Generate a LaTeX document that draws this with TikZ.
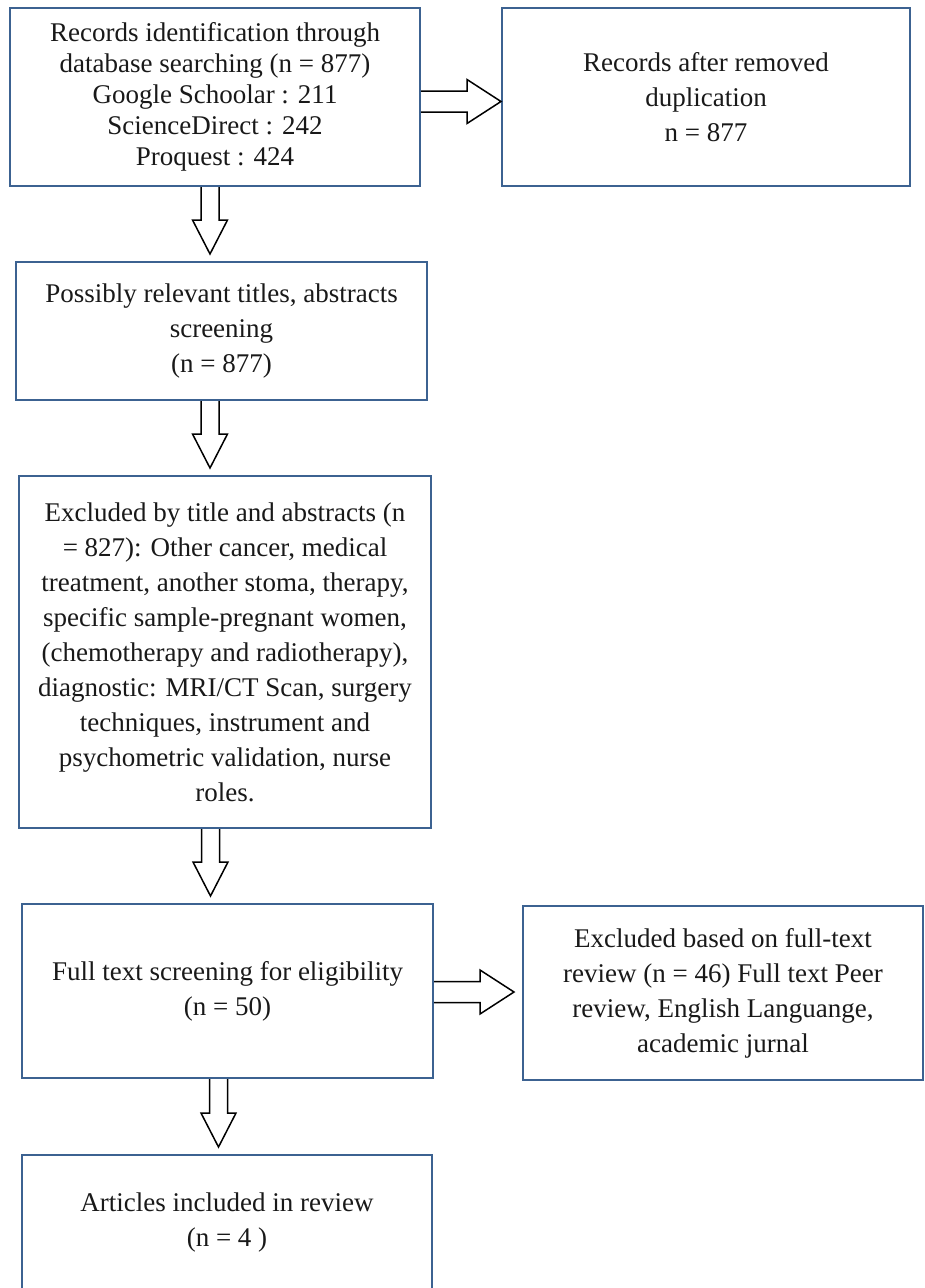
\documentclass[tikz,border=0pt]{standalone}
\usepackage{fontspec}
\setmainfont{Liberation Serif}
\usetikzlibrary{calc}
\definecolor{boxblue}{RGB}{60,98,145}
\newcommand\dnblk[3]{%
  \draw[blk] ($(#1.south -| #3)+(-9,0)$) -- ($(#2.north -| #3)+(-9,-41)$)
    -- ($(#2.north -| #3)+(-17.5,-41)$) -- ($(#2.north -| #3)+(0,-7)$)
    -- ($(#2.north -| #3)+(17.5,-41)$) -- ($(#2.north -| #3)+(9,-41)$)
    -- ($(#1.south -| #3)+(9,0)$);}
\newcommand\rtblk[4]{%
  \draw[blk] ($(#1.east |- #3)+(0,-10.5)$) -- ($(#2.west |- #3)+(-#4-34,-10.5)$)
    -- ($(#2.west |- #3)+(-#4-34,-22)$) -- ($(#2.west |- #3)+(-#4,0)$)
    -- ($(#2.west |- #3)+(-#4-34,22)$) -- ($(#2.west |- #3)+(-#4-34,10.5)$)
    -- ($(#1.east |- #3)+(0,10.5)$);}
\begin{document}
\begin{tikzpicture}[x=1pt,y=-1pt,
  box/.style={draw=boxblue,line width=2pt,fill=white,inner sep=0pt,align=center,
    font=\fontsize{27}{35}\selectfont,text=black!90},
  blk/.style={draw=black,line width=1.5pt,fill=white,line join=miter}]
\useasboundingbox (0,0) rectangle (925,1288);
\node[box,minimum width=410pt,minimum height=178pt,font=\fontsize{27}{31}\selectfont] (b1) at (215,97)
  {Records identification through\\database searching (n = 877)\\Google Schoolar : 211\\ScienceDirect : 242\\Proquest : 424};
\node[box,minimum width=408pt,minimum height=178pt] (b2) at (706,97)
  {Records after removed\\duplication\\n = 877};
\node[box,minimum width=411pt,minimum height=138pt] (b3) at (221.5,331)
  {Possibly relevant titles, abstracts\\screening\\(n = 877)};
\node[box,minimum width=412pt,minimum height=352pt] (b4) at (225,652)
  {Excluded by title and abstracts (n\\= 827): Other cancer, medical\\treatment, another stoma, therapy,\\specific sample-pregnant women,\\(chemotherapy and radiotherapy),\\diagnostic: MRI/CT Scan, surgery\\techniques, instrument and\\psychometric validation, nurse\\roles.};
\node[box,minimum width=411pt,minimum height=174pt] (b5) at (227.5,991)
  {Full text screening for eligibility\\(n = 50)};
\node[box,minimum width=400pt,minimum height=174pt] (b6) at (723,993)
  {Excluded based on full-text\\review (n = 46) Full text Peer\\review, English Languange,\\academic jurnal};
\node[box,minimum width=410pt,minimum height=135pt] (b7) at (227,1222.5)
  {Articles included in review\\(n = 4\ )};
\coordinate (ax1) at (210,0);
\coordinate (ax2) at (210.5,0);
\coordinate (ax3) at (218.5,0);
\coordinate (ay1) at (0,101.5);
\coordinate (ay2) at (0,992);
\dnblk{b1}{b3}{ax1}
\dnblk{b3}{b4}{ax1}
\dnblk{b4}{b5}{ax2}
\dnblk{b5}{b7}{ax3}
\rtblk{b1}{b2}{ay1}{0}
\rtblk{b5}{b6}{ay2}{8}
\end{tikzpicture}
\end{document}
